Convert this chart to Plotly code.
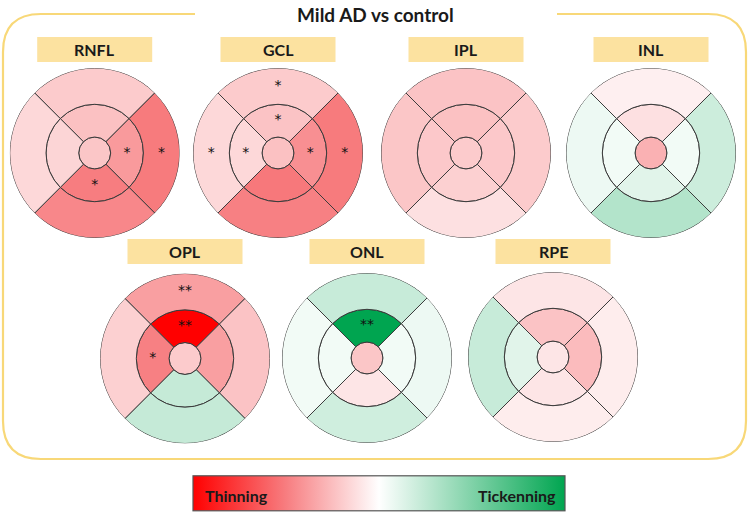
import plotly.graph_objects as go

W, H = 750, 515

# ---------------- data ----------------
layers = ["RNFL", "GCL", "IPL", "INL", "OPL", "ONL", "RPE"]
sector_names = ["Superior", "Nasal", "Inferior", "Temporal"]
sector_theta = [90, 0, 270, 180]

# negative = thinning, positive = thickening (relative scale -1..1)
center_vals = [-0.22, -0.24, -0.20, -0.30, -0.20, -0.22, -0.10]
inner_vals = [
    [-0.24, -0.39, -0.50, -0.16],
    [-0.23, -0.43, -0.52, -0.15],
    [-0.24, -0.21, -0.18, -0.21],
    [-0.12, 0.05, 0.12, 0.05],
    [-1.00, -0.37, 0.23, -0.49],
    [1.00, 0.05, -0.10, 0.05],
    [-0.23, -0.26, -0.10, 0.12],
]
outer_vals = [
    [-0.20, -0.51, -0.46, -0.15],
    [-0.20, -0.51, -0.49, -0.15],
    [-0.23, -0.20, -0.12, -0.22],
    [-0.06, 0.20, 0.30, 0.07],
    [-0.37, -0.23, 0.23, -0.18],
    [0.22, 0.07, 0.19, 0.05],
    [-0.10, -0.07, -0.07, 0.22],
]
inner_sig = [
    ["", "*", "*", ""],
    ["*", "*", "", "*"],
    ["", "", "", ""],
    ["", "", "", ""],
    ["**", "", "", "*"],
    ["**", "", "", ""],
    ["", "", "", ""],
]
outer_sig = [
    ["", "*", "", ""],
    ["*", "*", "", "*"],
    ["", "", "", ""],
    ["", "", "", ""],
    ["**", "", "", ""],
    ["", "", "", ""],
    ["", "", "", ""],
]
title_text = "Mild AD vs control"
scale_left_label = "Thinning"
scale_right_label = "Tickenning"

# ---------------- layout geometry (pixels) ----------------
R_CENTER, R_INNER, R_OUTER = 16, 48.7, 85
centers = [(94.7, 153), (278, 153), (466, 153), (651, 153),
           (185, 358.5), (367, 358), (553, 357)]
label_y = [49.5, 49.5, 49.5, 49.5, 251.5, 251.5, 251.5]
BOX_W, BOX_H = 115, 25

colorscale = [[0.0, "#FF0000"], [0.25, "#F77D80"], [0.5, "#FFFFFF"],
              [0.75, "#80D2A8"], [1.0, "#00A550"]]
LINE = dict(color="#3C3C3C", width=1)


def fx(x):
    return x / W


def fy(y):
    return 1 - y / H


fig = go.Figure()

for i, name in enumerate(layers):
    pid = "polar" if i == 0 else f"polar{i+1}"
    cx, cy = centers[i]
    # center disc
    fig.add_trace(go.Barpolar(
        r=[R_CENTER], theta=[0], width=[360], base=[0],
        marker=dict(color=[center_vals[i]], colorscale=colorscale, cmin=-1, cmax=1,
                    line=LINE),
        subplot=pid, showlegend=False, hoverinfo="skip"))
    # inner ring
    fig.add_trace(go.Barpolar(
        r=[R_INNER - R_CENTER] * 4, theta=sector_theta, width=[90] * 4,
        base=[R_CENTER] * 4,
        marker=dict(color=inner_vals[i], colorscale=colorscale, cmin=-1, cmax=1,
                    line=LINE),
        subplot=pid, showlegend=False, hoverinfo="skip"))
    # outer ring
    show = (i == 0)
    fig.add_trace(go.Barpolar(
        r=[R_OUTER - R_INNER] * 4, theta=sector_theta, width=[90] * 4,
        base=[R_INNER] * 4,
        marker=dict(color=outer_vals[i], colorscale=colorscale, cmin=-1, cmax=1,
                    line=LINE, showscale=show,
                    colorbar=dict(orientation="h", x=fx(379), xanchor="center",
                                  y=fy(512), yanchor="bottom",
                                  len=372, lenmode="pixels",
                                  thickness=35, thicknessmode="pixels",
                                  showticklabels=False, ticks="",
                                  outlinecolor="#555555", outlinewidth=1.2,
                                  xpad=0, ypad=0)),
        subplot=pid, showlegend=False, hoverinfo="skip"))
    # significance stars
    fig.add_trace(go.Scatterpolar(
        r=[(R_CENTER + R_INNER) / 2] * 4 + [(R_INNER + R_OUTER) / 2] * 4,
        theta=sector_theta + sector_theta,
        text=inner_sig[i] + outer_sig[i],
        mode="text", textposition="middle center",
        textfont=dict(size=14, color="#111111", family="DejaVu Sans"),
        subplot=pid, showlegend=False, hoverinfo="skip"))

    fig.layout[pid] = dict(
        domain=dict(x=[fx(cx - R_OUTER), fx(cx + R_OUTER)],
                    y=[fy(cy + R_OUTER), fy(cy - R_OUTER)]),
        bgcolor="rgba(0,0,0,0)", bargap=0, hole=0,
        radialaxis=dict(visible=False, range=[0, R_OUTER]),
        angularaxis=dict(visible=False),
    )

    # label box
    fig.add_shape(type="rect", xref="paper", yref="paper",
                  x0=fx(cx - BOX_W / 2), x1=fx(cx + BOX_W / 2),
                  y0=fy(label_y[i] + BOX_H / 2), y1=fy(label_y[i] - BOX_H / 2),
                  fillcolor="#FCE2A0", line=dict(width=0), layer="below")
    fig.add_annotation(text=f"<b>{name}</b>", x=fx(cx), y=fy(label_y[i]),
                       xref="paper", yref="paper", showarrow=False,
                       xanchor="center", yanchor="middle",
                       font=dict(family="Lato", size=16, color="#1A1A1A"))

# rounded border with gap for title
L, Rr, T, B, rr = 3, 746, 14, 459, 38
g0, g1 = 195, 557
pts = (f"M {fx(g0)},{fy(T)} L {fx(L+rr)},{fy(T)} Q {fx(L)},{fy(T)} {fx(L)},{fy(T+rr)} "
       f"L {fx(L)},{fy(B-rr)} Q {fx(L)},{fy(B)} {fx(L+rr)},{fy(B)} "
       f"L {fx(Rr-rr)},{fy(B)} Q {fx(Rr)},{fy(B)} {fx(Rr)},{fy(B-rr)} "
       f"L {fx(Rr)},{fy(T+rr)} Q {fx(Rr)},{fy(T)} {fx(Rr-rr)},{fy(T)} L {fx(g1)},{fy(T)}")
fig.add_shape(type="path", xref="paper", yref="paper", path=pts,
              line=dict(color="#F8D878", width=2.2), layer="below")

fig.add_annotation(text=f"<b>{title_text}</b>", x=fx(375), y=fy(14),
                   xref="paper", yref="paper", showarrow=False,
                   xanchor="center", yanchor="middle",
                   font=dict(family="Lato", size=19, color="#1A1A1A"))

fig.add_annotation(text=f"<b>{scale_left_label}</b>", x=fx(203), y=fy(495),
                   xref="paper", yref="paper", showarrow=False,
                   xanchor="left", yanchor="middle",
                   font=dict(family="Lato", size=16, color="#1A1A1A"))
fig.add_annotation(text=f"<b>{scale_right_label}</b>", x=fx(558), y=fy(495),
                   xref="paper", yref="paper", showarrow=False,
                   xanchor="right", yanchor="middle",
                   font=dict(family="Lato", size=16, color="#1A1A1A"))

fig.update_layout(width=W, height=H, margin=dict(l=0, r=0, t=0, b=0),
                  paper_bgcolor="white", plot_bgcolor="white")

fig.write_html("out.html", config={"displayModeBar": False},
               post_script="document.body.style.margin='0';"
                           "document.documentElement.style.margin='0';"
                           "document.body.style.overflow='hidden';")
